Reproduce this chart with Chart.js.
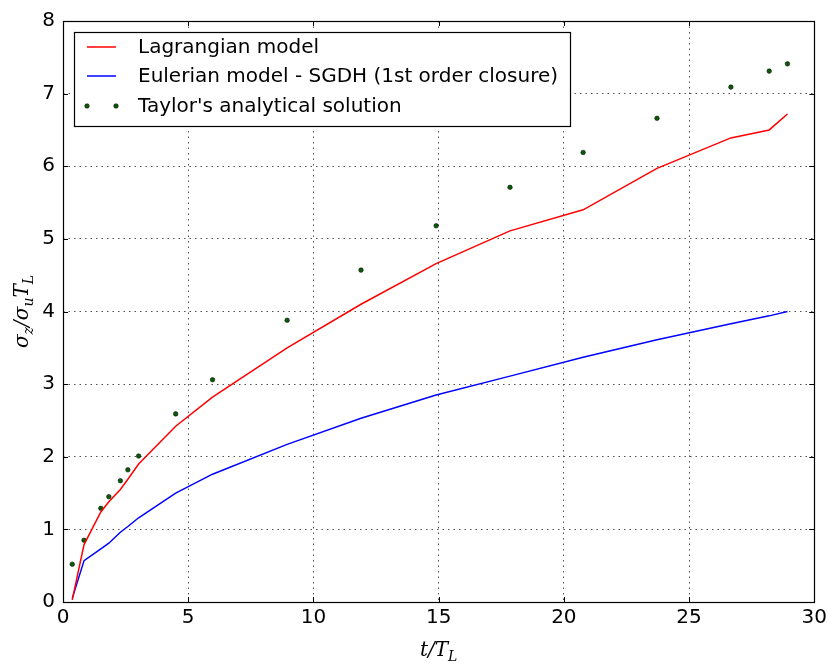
<!DOCTYPE html>
<html>
<head>
<meta charset="utf-8">
<script src="https://cdn.jsdelivr.net/npm/chart.js@4.4.1/dist/chart.umd.min.js"></script>
<style>
  html, body { margin: 0; padding: 0; background: #fff; }
  #box { width: 831px; height: 664px; }
</style>
</head>
<body>
<div id="box"><canvas id="grafico"></canvas></div>
<script>
// tempos adimensionais t/T_L
const tempos = [0.37, 0.84, 1.51, 1.83, 2.29, 2.59, 3.02, 4.5, 5.97, 8.95, 11.9, 14.9, 17.85, 20.77, 23.72, 26.67, 28.2, 28.93];
const lagrangiano = [0.03, 0.79, 1.24, 1.38, 1.55, 1.69, 1.9, 2.42, 2.82, 3.5, 4.1, 4.66, 5.11, 5.40, 5.97, 6.39, 6.5, 6.72];
const euleriano = [0.05, 0.57, 0.73, 0.81, 0.96, 1.04, 1.16, 1.5, 1.76, 2.17, 2.53, 2.85, 3.11, 3.37, 3.61, 3.83, 3.94, 4.0];
const taylor = [0.52, 0.85, 1.29, 1.45, 1.67, 1.82, 2.01, 2.59, 3.06, 3.88, 4.57, 5.18, 5.71, 6.19, 6.66, 7.09, 7.31, 7.41];
const ticksX = [0, 5, 10, 15, 20, 25, 30];
const ticksY = [0, 1, 2, 3, 4, 5, 6, 7, 8];

const nomes = ["Lagrangian model", "Eulerian model - SGDH (1st order closure)", "Taylor's analytical solution"];
const fonte = "DejaVu Sans";

function pontos(valores) {
    return tempos.map((t, i) => ({ x: t, y: valores[i] }));
}

// ticks para dentro, legenda e títulos dos eixos
const extras = {
    id: "extras",
    afterDraw(chart) {
        const ctx = chart.ctx;
        const a = chart.chartArea;
        const sx = chart.scales.x, sy = chart.scales.y;
        ctx.save();
        ctx.strokeStyle = "#000";
        ctx.lineWidth = 1;
        ctx.beginPath();
        ticksX.forEach(v => {
            const px = Math.round(sx.getPixelForValue(v)) + 0.5;
            ctx.moveTo(px, a.bottom); ctx.lineTo(px, a.bottom - 5);
            ctx.moveTo(px, a.top); ctx.lineTo(px, a.top + 5);
        });
        ticksY.forEach(v => {
            const py = Math.round(sy.getPixelForValue(v)) + 0.5;
            ctx.moveTo(a.left, py); ctx.lineTo(a.left + 5, py);
            ctx.moveTo(a.right, py); ctx.lineTo(a.right - 5, py);
        });
        ctx.stroke();
        ctx.lineWidth = 1.2;
        ctx.strokeRect(Math.round(a.left) + 0.5, Math.round(a.top) + 0.5, Math.round(a.right - a.left), Math.round(a.bottom - a.top));

        // legenda
        const lx = 74, ly = 32, lw = 496, lh = 94;
        ctx.fillStyle = "#fff";
        ctx.fillRect(lx, ly, lw, lh);
        ctx.lineWidth = 1.2;
        ctx.strokeRect(lx + 0.5, ly + 0.5, lw, lh);
        const linhas = [47, 76, 106];
        ctx.font = "20px '" + fonte + "'";
        ctx.textBaseline = "middle";
        ctx.textAlign = "left";
        ctx.lineWidth = 1.5;
        ctx.strokeStyle = "#ff0000";
        ctx.beginPath(); ctx.moveTo(87, linhas[0]); ctx.lineTo(116, linhas[0]); ctx.stroke();
        ctx.strokeStyle = "#0000ff";
        ctx.beginPath(); ctx.moveTo(87, linhas[1]); ctx.lineTo(116, linhas[1]); ctx.stroke();
        ctx.fillStyle = "#0a5a0a";
        ctx.strokeStyle = "#000";
        ctx.lineWidth = 0.5;
        [87, 116].forEach(px => {
            ctx.beginPath(); ctx.arc(px, linhas[2], 2.3, 0, Math.PI * 2); ctx.fill(); ctx.stroke();
        });
        ctx.fillStyle = "#000";
        nomes.forEach((n, i) => ctx.fillText(n, 138, linhas[i] + 1));

        // título do eixo x: t/T_L
        ctx.font = "italic 20px 'DejaVu Serif'";
        ctx.textBaseline = "alphabetic";
        const cx = (a.left + a.right) / 2;
        const base = 656;
        const p1 = "t/T";
        const w1 = ctx.measureText(p1).width;
        ctx.font = "italic 14px 'DejaVu Serif'";
        const w2 = ctx.measureText("L").width;
        let x0 = cx - (w1 + w2) / 2;
        ctx.font = "italic 20px 'DejaVu Serif'";
        ctx.fillText(p1, x0, base);
        ctx.font = "italic 14px 'DejaVu Serif'";
        ctx.fillText("L", x0 + w1, base + 5);

        // título do eixo y: σz/σu TL
        ctx.translate(28, (a.top + a.bottom) / 2);
        ctx.rotate(-Math.PI / 2);
        const partes = [["σ", 20, 0], ["z", 14, 5], ["/σ", 20, 0], ["u", 14, 5], ["T", 20, 0], ["L", 14, 5]];
        let total = 0;
        partes.forEach(p => { ctx.font = "italic " + p[1] + "px 'DejaVu Serif'"; total += ctx.measureText(p[0]).width; });
        let px = -total / 2;
        partes.forEach(p => {
            ctx.font = "italic " + p[1] + "px 'DejaVu Serif'";
            ctx.fillText(p[0], px, p[2]);
            px += ctx.measureText(p[0]).width;
        });
        ctx.restore();
    }
};

new Chart(document.getElementById("grafico"), {
    type: "line",
    data: {
        datasets: [
            {
                label: nomes[0],
                data: pontos(lagrangiano),
                borderColor: "#ff0000",
                borderWidth: 1.5,
                pointRadius: 0,
                tension: 0
            },
            {
                label: nomes[1],
                data: pontos(euleriano),
                borderColor: "#0000ff",
                borderWidth: 1.5,
                pointRadius: 0,
                tension: 0
            },
            {
                label: nomes[2],
                data: pontos(taylor),
                showLine: false,
                pointRadius: 2.3,
                pointBackgroundColor: "#0a5a0a",
                pointBorderColor: "#000",
                pointBorderWidth: 0.5
            }
        ]
    },
    options: {
        responsive: true,
        maintainAspectRatio: false,
        animation: false,
        layout: { padding: { top: 21, right: 14, left: 0, bottom: 0 } },
        plugins: { legend: { display: false }, tooltip: { enabled: false } },
        scales: {
            x: {
                type: "linear",
                min: 0, max: 30,
                afterBuildTicks: s => { s.ticks = ticksX.map(v => ({ value: v })); },
                afterFit: s => { s.height = 62; },
                grid: { color: "#555", drawTicks: false, lineWidth: 1 },
                border: { display: false, dash: [1.5, 4] },
                ticks: { color: "#000", padding: 4, font: { family: fonte, size: 20 }, maxRotation: 0 }
            },
            y: {
                min: 0, max: 8,
                afterBuildTicks: s => { s.ticks = ticksY.map(v => ({ value: v })); },
                afterFit: s => { s.width = 63; },
                grid: { color: "#555", drawTicks: false, lineWidth: 1 },
                border: { display: false, dash: [1.5, 4] },
                ticks: { color: "#000", padding: 8, font: { family: fonte, size: 20 } }
            }
        }
    },
    plugins: [extras]
});
</script>
</body>
</html>
